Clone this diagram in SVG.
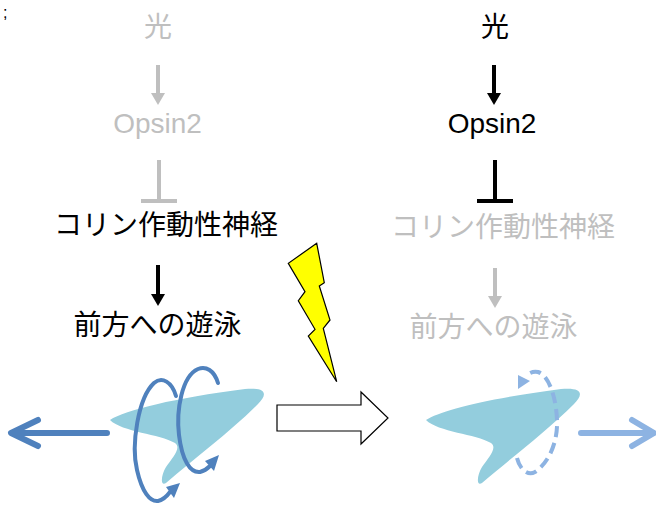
<svg xmlns="http://www.w3.org/2000/svg" width="656" height="506" viewBox="0 0 656 506">
  <defs>
    <style>
      .jp { font-family: "Noto Sans CJK JP", "Noto Sans", sans-serif; font-size: 28px; text-anchor: middle; }
      .en { font-family: "Liberation Sans", Arial, sans-serif; font-size: 28px; text-anchor: middle; }
      .on { fill: #000000; }
      .off { fill: #bfbfbf; }
      .fish { fill: #93cddd; }
      .spin { fill: none; stroke: #4f81bd; stroke-width: 4; stroke-linecap: round; }
      .spin-weak { fill: none; stroke: #8db3e2; stroke-width: 4; stroke-dasharray: 11 6; }
      .swim { fill: none; stroke-width: 6; stroke-linecap: round; stroke-linejoin: round; }
    </style>
    <marker id="head-on" viewBox="0 0 12 14" refX="0" refY="7" markerWidth="12" markerHeight="14" markerUnits="userSpaceOnUse" orient="auto">
      <path d="M0,0 L12,7 L0,14 Z" fill="#000000"/>
    </marker>
    <marker id="head-off" viewBox="0 0 12 14" refX="0" refY="7" markerWidth="12" markerHeight="14" markerUnits="userSpaceOnUse" orient="auto">
      <path d="M0,0 L12,7 L0,14 Z" fill="#bfbfbf"/>
    </marker>
    <path id="fish-shape" d="M110,420 C 125,410 175,398 245,389 C 268,387 267,395 258,404 C 230,432 195,458 166,483 C 160,487 161,475 166,467 C 172,458 182,448 175,443 C 160,434 122,432 110,420 Z"/>
  </defs>

  <text x="3" y="18" font-family="Liberation Sans, Arial, sans-serif" font-size="16" fill="#000000">;</text>

  <!-- left pathway: light off -->
  <g id="left-light"><text class="jp off" x="158" y="37">光</text></g>
  <g id="left-opsin"><text class="en off" x="157.5" y="133">Opsin2</text></g>
  <g id="left-neuron"><text class="jp on" x="166" y="235">コリン作動性神経</text></g>
  <g id="left-swim"><text class="jp on" x="157.5" y="335">前方への遊泳</text></g>

  <!-- right pathway: light on -->
  <g id="right-light"><text class="jp on" x="495" y="37">光</text></g>
  <g id="right-opsin"><text class="en on" x="492" y="133">Opsin2</text></g>
  <g id="right-neuron"><text class="jp off" x="503" y="237">コリン作動性神経</text></g>
  <g id="right-swim"><text class="jp off" x="493.5" y="337">前方への遊泳</text></g>

  <g id="connectors">
    <!-- left -->
    <line x1="158" y1="65" x2="158" y2="93" stroke="#bfbfbf" stroke-width="4" marker-end="url(#head-off)"/>
    <line x1="159" y1="160" x2="159" y2="200" stroke="#bfbfbf" stroke-width="4"/>
    <line x1="141" y1="201" x2="177" y2="201" stroke="#bfbfbf" stroke-width="4"/>
    <line x1="158" y1="265" x2="158" y2="294" stroke="#000000" stroke-width="4" marker-end="url(#head-on)"/>
    <!-- right -->
    <line x1="494" y1="65" x2="494" y2="93" stroke="#000000" stroke-width="4" marker-end="url(#head-on)"/>
    <line x1="495" y1="160" x2="495" y2="200" stroke="#000000" stroke-width="4"/>
    <line x1="477" y1="201" x2="513" y2="201" stroke="#000000" stroke-width="4"/>
    <line x1="495" y1="268" x2="495" y2="296" stroke="#bfbfbf" stroke-width="4" marker-end="url(#head-off)"/>
  </g>

  <!-- stimulus -->
  <g id="lightning">
    <polygon points="316.7,243.3 288.3,263.3 305,291.7 298.3,300.7 315,329.3 308.3,336 336.7,381.7 323.3,328.3 330,320 319.3,286 324.3,282.7" fill="#ffff00" stroke="#000000" stroke-width="1.2" stroke-linejoin="miter"/>
  </g>
  <g id="transition-arrow">
    <polygon points="277,405 361,405 361,392 388,418 361,444 361,431 277,431" fill="#ffffff" stroke="#000000" stroke-width="1.2"/>
  </g>

  <!-- left larva: forward swimming with body rotation -->
  <g id="left-larva">
    <path class="swim" stroke="#4f81bd" d="M107,433 L12,433 M38,420 L11,433 L38,446"/>
    <use href="#fish-shape" class="fish"/>
    <path class="spin" d="M176,396 C 172,382 162,376 154,383 C 138,398 131,445 137,470 C 142,492 150,502 158,501 C 163,500 167,496 170,492"/>
    <polygon points="180,483 166,487 174,498" fill="#4f81bd"/>
    <path class="spin" d="M218,383 C 214,370 206,366 198,369 C 182,376 176,410 179,435 C 182,460 190,473 200,472 C 204,471 207,469 210,466"/>
    <polygon points="219,455 205,461 214,471" fill="#4f81bd"/>
  </g>

  <!-- right larva: reduced rotation -->
  <g id="right-larva">
    <path class="swim" stroke="#8db3e2" d="M581,433 L653,433 M632,420 L654,433 L632,446"/>
    <use href="#fish-shape" class="fish" transform="translate(316,0)"/>
    <path class="spin-weak" d="M517,458 C 520,470 528,476 535,472 C 550,462 558,440 557,420 C 556,395 548,375 538,372 C 533,371 529,373 526,376"/>
    <polygon points="518,375 518,389 530,381" fill="#8db3e2"/>
  </g>
</svg>
